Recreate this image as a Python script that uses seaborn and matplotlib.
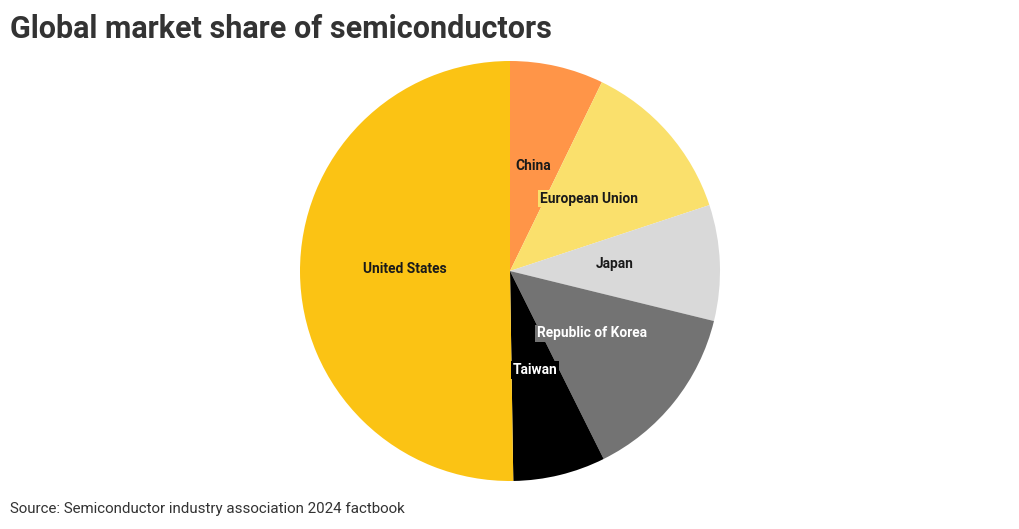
import matplotlib
matplotlib.use("Agg")
import matplotlib.pyplot as plt
import seaborn as sns

# data (percent share, clockwise from the top)
regions = ["China", "European Union", "Japan", "Republic of Korea", "Taiwan", "United States"]
shares = [7.2, 12.7, 8.9, 13.8, 7.1, 50.2]
colors = ["#FF9548", "#FAE06C", "#D9D9D9", "#737373", "#000000", "#FBC314"]
text_colors = ["#1a1a1a", "#1a1a1a", "#1a1a1a", "#ffffff", "#ffffff", "#1a1a1a"]

sns.set_theme(style="white")
plt.rcParams["font.family"] = ["Roboto", "DejaVu Sans"]

fig = plt.figure(figsize=(10.2, 5.29), dpi=100)
ax = fig.add_axes([300 / 1020, 48 / 529, 420 / 1020, 420 / 529])

wedges, texts = ax.pie(
    shares,
    labels=regions,
    colors=sns.color_palette(colors),
    startangle=90,
    counterclock=False,
    labeldistance=0.5,
    radius=1.0,
    wedgeprops=dict(edgecolor="none", linewidth=0),
)
for t, w, tc in zip(texts, wedges, text_colors):
    x, y = t.get_position()
    t.set_position((x, y + 0.015))
    t.set_ha("center")
    t.set_va("center")
    t.set_fontsize(9.9)
    t.set_fontweight("bold")
    t.set_color(tc)
    t.set_bbox(dict(facecolor=w.get_facecolor(), edgecolor="none", pad=1.2))

ax.set_xlim(-1, 1)
ax.set_ylim(-1, 1)
ax.set_aspect("equal")
ax.axis("off")

fig.text(10 / 1020, 1 - 29 / 529, "Global market share of semiconductors",
         fontsize=22, fontweight="bold", color="#333333", va="center", ha="left")
fig.text(10 / 1020, 1 - 509 / 529, "Source: Semiconductor industry association 2024 factbook",
         fontsize=10.9, color="#333333", va="center", ha="left")

fig.savefig("out.png", dpi=100, facecolor="white")
